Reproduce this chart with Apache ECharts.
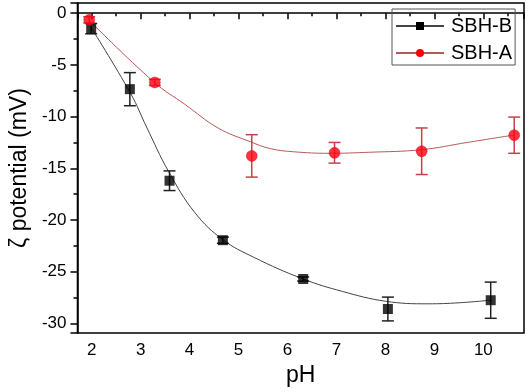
<!DOCTYPE html>
<html>
<head>
<meta charset="utf-8">
<script src="https://cdn.jsdelivr.net/npm/echarts@6/dist/echarts.min.js"></script>
<style>
  html, body { margin: 0; padding: 0; background: #fff; }
  #chart { width: 529px; height: 392px; }
</style>
</head>
<body>
<div id="chart"></div>
<script>
// measured points (pH, zeta potential, error)
const phB = [1.99, 2.78, 3.59, 4.68, 6.32, 8.05, 10.15];
const zetaB = [-1.5, -7.35, -16.2, -21.95, -25.7, -28.6, -27.75];
const errB = [0.5, 1.6, 0.95, 0.3, 0.2, 1.15, 1.75];

const phA = [1.95, 3.29, 5.27, 6.96, 8.74, 10.63];
const zetaA = [-0.65, -6.7, -13.8, -13.5, -13.35, -11.8];
const errA = [0.3, 0.3, 2.05, 1.0, 2.25, 1.75];

// fitted curves
const fitPhB = [1.99, 2.8, 3.12, 3.57, 4.11, 4.68, 5.31, 6.32, 7.12, 8.0, 8.87, 9.5, 10.15];
const fitZetaB = [-1.4, -7.8, -11.0, -15.3, -19.3, -21.9, -23.6, -25.7, -26.9, -27.85, -28.1, -28.0, -27.75];

const fitPhA = [1.95, 3.28, 3.9, 4.58, 5.25, 5.65, 6.12, 6.86, 7.66, 8.74, 9.67, 10.63];
const fitZetaA = [-0.7, -6.7, -8.8, -11.1, -12.45, -13.1, -13.4, -13.55, -13.45, -13.2, -12.5, -11.78];

const FONT = 'Arial, "Liberation Sans", sans-serif';

let myChart = echarts.init(document.getElementById('chart'));

function zip(xs, ys) {
  return xs.map((x, i) => [x, ys[i]]);
}

// error bars as custom series
function errorBars(name, ph, zeta, err, color) {
  return {
    name: name,
    type: 'custom',
    z: 2,
    data: ph.map((x, i) => [x, zeta[i] - err[i], zeta[i] + err[i]]),
    encode: { x: 0, y: [1, 2] },
    renderItem: function (params, api) {
      let lo = api.coord([api.value(0), api.value(1)]);
      let hi = api.coord([api.value(0), api.value(2)]);
      let hw = 6;
      let st = { stroke: color, lineWidth: 1.5 };
      return {
        type: 'group',
        children: [
          { type: 'line', shape: { x1: lo[0], y1: lo[1], x2: hi[0], y2: hi[1] }, style: st },
          { type: 'line', shape: { x1: lo[0] - hw, y1: lo[1], x2: lo[0] + hw, y2: lo[1] }, style: st },
          { type: 'line', shape: { x1: hi[0] - hw, y1: hi[1], x2: hi[0] + hw, y2: hi[1] }, style: st }
        ]
      };
    }
  };
}

let option = {
  animation: false,
  backgroundColor: '#fff',
  grid: {
    left: 71, right: 5, top: 3, bottom: 55,
    show: true, borderColor: '#000', borderWidth: 1.5
  },
  legend: {
    data: ['SBH-B', 'SBH-A'],
    orient: 'vertical',
    left: 392, top: 9,
    itemWidth: 48, itemHeight: 10, itemGap: 7,
    padding: [7, 3, 2, 3],
    borderColor: '#555', borderWidth: 1,
    formatter: function (name) {
      return '{g|}' + name;
    },
    textStyle: {
      fontSize: 20, color: '#000', fontFamily: FONT,
      rich: { g: { width: 2 } }
    }
  },
  xAxis: {
    type: 'value',
    min: 1.71, max: 10.83,
    splitNumber: 9,
    name: 'pH',
    nameLocation: 'middle',
    nameGap: 27,
    nameTextStyle: { fontSize: 23, color: '#000', fontFamily: FONT },
    axisLine: { lineStyle: { color: '#000', width: 1.5 } },
    axisTick: { inside: false, length: 6, lineStyle: { color: '#000', width: 1.5 } },
    minorTick: { show: true, splitNumber: 2, length: 3, lineStyle: { color: '#000', width: 1.5 } },
    splitLine: { show: false },
    axisLabel: { fontSize: 17, color: '#000', fontFamily: FONT, margin: 9, showMinLabel: false, showMaxLabel: false }
  },
  yAxis: {
    type: 'value',
    min: -30.93, max: 0.98,
    splitNumber: 6,
    name: 'ζ potential (mV)',
    nameLocation: 'middle',
    nameGap: 40,
    nameTextStyle: { fontSize: 23, color: '#000', fontFamily: FONT },
    axisLine: { lineStyle: { color: '#000', width: 1.5 } },
    axisTick: { inside: false, length: 7, lineStyle: { color: '#000', width: 1.5 } },
    minorTick: { show: true, splitNumber: 2, length: 4, lineStyle: { color: '#000', width: 1.5 } },
    splitLine: { show: false },
    axisLabel: { fontSize: 17, color: '#000', fontFamily: FONT, margin: 11, showMinLabel: false, showMaxLabel: false }
  },
  series: [
    {
      name: 'SBH-B',
      type: 'line',
      smooth: 0.4,
      showSymbol: false,
      symbol: 'rect',
      symbolSize: 10,
      itemStyle: { color: '#000' },
      lineStyle: { color: '#444', width: 1 },
      data: zip(fitPhB, fitZetaB),
      z: 1
    },
    {
      name: 'SBH-A',
      type: 'line',
      smooth: 0.4,
      showSymbol: false,
      symbol: 'circle',
      symbolSize: 11,
      itemStyle: { color: '#ff0000' },
      lineStyle: { color: '#b55a5a', width: 1 },
      data: zip(fitPhA, fitZetaA),
      z: 1
    },
    errorBars('errB', phB, zetaB, errB, '#222'),
    errorBars('errA', phA, zetaA, errA, '#c8404a'),
    {
      name: 'ptsB',
      type: 'scatter',
      symbol: 'rect',
      symbolSize: 10,
      itemStyle: { color: '#000' },
      data: zip(phB, zetaB),
      z: 3
    },
    {
      name: 'ptsA',
      type: 'scatter',
      symbol: 'circle',
      symbolSize: 11,
      itemStyle: { color: '#ff0010', borderColor: '#d00010', borderWidth: 0.5 },
      data: zip(phA, zetaA),
      z: 3
    }
  ]
};

myChart.setOption(option);
window.addEventListener('resize', function () {
  myChart.resize();
}, false);
</script>
</body>
</html>
